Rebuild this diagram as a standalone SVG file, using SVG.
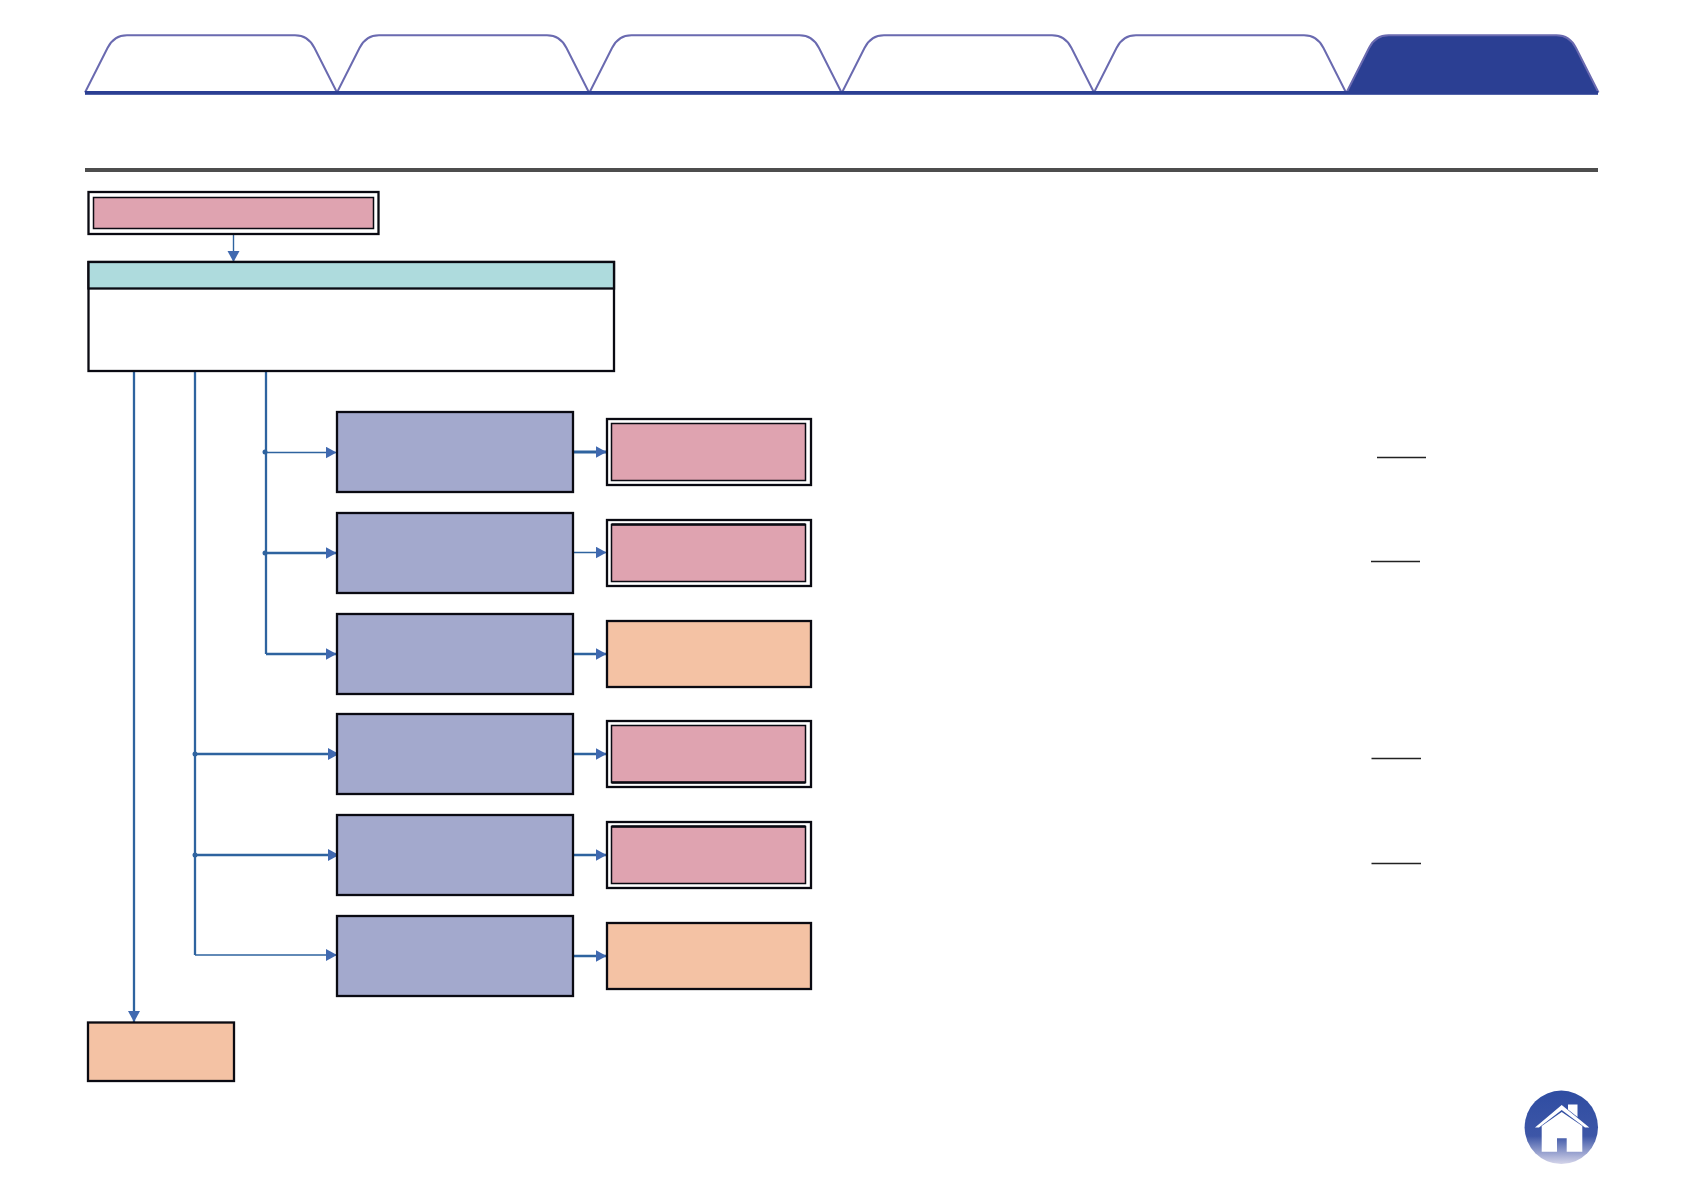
<svg xmlns="http://www.w3.org/2000/svg" width="1684" height="1191" viewBox="0 0 1684 1191">
<style>
.tab{fill:#fff;stroke:#6a6ab0;stroke-width:2}
.tabon{fill:#2b3f93;stroke:#6a6ab0;stroke-width:2}
.box{stroke:#0a0a12;stroke-width:2.300}
.thin{stroke-width:1.5}
.heavy{stroke:#0a0a12;stroke-width:2.600;fill:none}
.purple{fill:#a3a9cd}
.pink{fill:#dfa3b0}
.peach{fill:#f4c2a4}
.white{fill:#fff}
.teal{fill:#aedbdd}
.c{fill:none;stroke:#2e639f;stroke-width:2.300}
.c1{stroke-width:1.400}
.c3{stroke-width:2.800}
.a{marker-end:url(#arrow)}
.dot{fill:#2e639f}
.rule{stroke:#222;stroke-width:1.600}
</style>
<defs>
<marker id="arrow" markerUnits="userSpaceOnUse" markerWidth="12" markerHeight="13" refX="11" refY="6" orient="auto"><path d="M0 0L11 6L0 12Z" fill="#4069b0"/></marker>
<path id="tabshape" d="M0 57.500L22.500 13C27 4 33 0.300 42 0.300H210C219 0.300 225 4 229.500 13L252 57.500"/>
<linearGradient id="home" x1="0" y1="0" x2="0" y2="1"><stop offset="0" stop-color="#2f4da2"/><stop offset=".62" stop-color="#3d56a7"/><stop offset="1" stop-color="#d5d5ea"/></linearGradient>
</defs>
<g id="tabs">
<g id="tab1"><use href="#tabshape" x="85" y="35" class="tab"/></g>
<g id="tab2"><use href="#tabshape" x="337" y="35" class="tab"/></g>
<g id="tab3"><use href="#tabshape" x="589.500" y="35" class="tab"/></g>
<g id="tab4"><use href="#tabshape" x="842" y="35" class="tab"/></g>
<g id="tab5"><use href="#tabshape" x="1094" y="35" class="tab"/></g>
<g id="tab6"><use href="#tabshape" x="1346.500" y="35" class="tabon"/></g>
<rect x="85" y="91" width="1513" height="3.800" fill="#2b3f93"/>
<rect x="85" y="168" width="1513" height="4" fill="#4d4d4d"/>
</g>
<g id="connectors">
<path class="c c1 a" d="M233.500 234V262"/>
<path class="c a" d="M134 371V1022"/>
<path class="c" d="M195 371V955"/>
<path class="c" d="M266 371V654"/>
<path class="c c1 a" d="M195 955H337"/>
<path class="c c1 a" d="M266 452.500H336.500"/>
<path class="c a" d="M266 553H336.500"/>
<path class="c a" d="M266 654H336.500"/>
<path class="c a" d="M195 754H339"/>
<path class="c a" d="M195 855H339"/>
<path class="c c3 a" d="M573 452H606.500"/>
<path class="c c1 a" d="M573 552.500H606.500"/>
<path class="c a" d="M573 654H606.500"/>
<path class="c a" d="M573 754H606.500"/>
<path class="c a" d="M573 855H606.500"/>
<path class="c a" d="M573 956H606.500"/>
<circle class="dot" cx="265" cy="452" r="2.500"/>
<circle class="dot" cx="265" cy="553" r="2.500"/>
<circle class="dot" cx="195" cy="754" r="2.500"/>
<circle class="dot" cx="195" cy="855" r="2.500"/>
</g>
<g id="start"><rect class="box white" x="88.500" y="192" width="290" height="42"/><rect class="box thin pink" x="93.500" y="197.500" width="280" height="31"/></g>
<g id="panel"><rect class="box white" x="88.500" y="262" width="525.500" height="109"/><rect class="box teal" x="88.500" y="262" width="525.500" height="26.500"/></g>
<g id="p1"><rect class="box purple" x="337" y="412" width="236" height="80"/></g>
<g id="p2"><rect class="box purple" x="337" y="513" width="236" height="80"/></g>
<g id="p3"><rect class="box purple" x="337" y="614" width="236" height="80"/></g>
<g id="p4"><rect class="box purple" x="337" y="714" width="236" height="80"/></g>
<g id="p5"><rect class="box purple" x="337" y="815" width="236" height="80"/></g>
<g id="p6"><rect class="box purple" x="337" y="916" width="236" height="80"/></g>
<g id="r1"><rect class="box white" x="607" y="419" width="204" height="66"/><rect class="box thin pink" x="611.500" y="423.500" width="194" height="57"/></g>
<g id="r2"><rect class="box white" x="607" y="520" width="204" height="66"/><rect class="box thin pink" x="611.500" y="524.500" width="194" height="57"/><line class="heavy" x1="611.500" y1="524.500" x2="805.500" y2="524.500"/></g>
<g id="r3"><rect class="box peach" x="607" y="621" width="204" height="66"/></g>
<g id="r4"><rect class="box white" x="607" y="721" width="204" height="66"/><rect class="box thin pink" x="611.500" y="725.500" width="194" height="57"/><line class="heavy" x1="611.500" y1="782.500" x2="805.500" y2="782.500"/></g>
<g id="r5"><rect class="box white" x="607" y="822" width="204" height="66"/><rect class="box thin pink" x="611.500" y="826.500" width="194" height="57"/><line class="heavy" x1="611.500" y1="826.500" x2="805.500" y2="826.500"/></g>
<g id="r6"><rect class="box peach" x="607" y="923" width="204" height="66"/></g>
<g id="end"><rect class="box peach" x="88" y="1022.500" width="146" height="58.500"/></g>
<g id="rules">
<line class="rule" x1="1377" y1="457.500" x2="1426" y2="457.500"/>
<line class="rule" x1="1371" y1="561.500" x2="1420" y2="561.500"/>
<line class="rule" x1="1371.500" y1="758.500" x2="1421" y2="758.500"/>
<line class="rule" x1="1371.500" y1="863.500" x2="1421" y2="863.500"/>
</g>
<g id="home-icon">
<circle cx="1561.300" cy="1127.300" r="36.700" fill="url(#home)"/>
<path fill="#fff" d="M1568 1104.500H1577.500V1117L1568 1109.500Z"/>
<path fill="#fff" d="M1535 1127.500L1561.700 1105L1589.300 1127.500H1585L1561.700 1110L1539 1127.500Z"/>
<path fill="#fff" d="M1541.700 1126L1561.700 1112L1582.300 1126V1151.700H1566.700V1138.300H1557V1151.700H1541.700Z"/>
</g>
</svg>
